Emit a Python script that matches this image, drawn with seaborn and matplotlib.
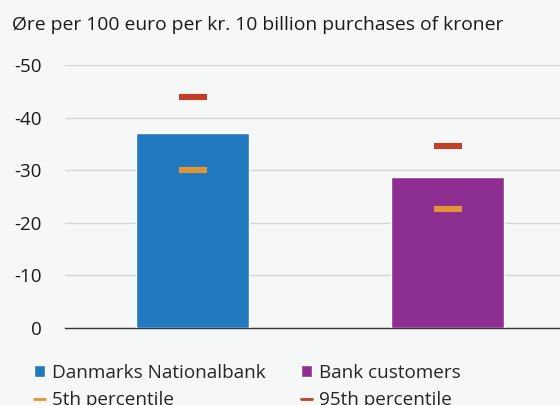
import matplotlib
matplotlib.use("Agg")
import matplotlib.pyplot as plt
import seaborn as sns
import pandas as pd
from matplotlib.patches import Patch
from matplotlib.lines import Line2D

# Data
categories = ["Danmarks Nationalbank", "Bank customers"]
values = [-37, -28.8]
p5 = [-30, -22.7]
p95 = [-44, -34.6]
yticks = [0, -10, -20, -30, -40, -50]

bar_colors = ["#2179c0", "#8c2f91"]
c5 = "#e29536"
c95 = "#c43e27"
bg = "#f6f7f7"

sns.set_style("white")
plt.rcParams["font.family"] = ["Open Sans", "DejaVu Sans"]

df = pd.DataFrame({"cat": categories, "val": values})

fig = plt.figure(figsize=(5.6, 4.05), dpi=100, facecolor=bg)
ax = fig.add_axes([65 / 560, 77 / 405, 510 / 560, 263 / 405])
ax.set_facecolor(bg)

sns.barplot(data=df, x="cat", y="val", hue="cat", palette=bar_colors,
            width=0.44, saturation=1, legend=False, ax=ax, zorder=3)

xs = list(range(len(categories)))
ax.plot(xs, p95, linestyle="none", marker="_", markersize=19.5,
        markeredgewidth=4.4, color=c95, zorder=4)
ax.plot(xs, p5, linestyle="none", marker="_", markersize=19.5,
        markeredgewidth=4.4, color=c5, zorder=4)

ax.set_ylim(0, -50)
ax.set_xlim(-0.5, 1.5)
ax.set_yticks(yticks)
ax.set_yticklabels([str(t) for t in yticks])
ax.yaxis.grid(True, color="#d4d4d4", linewidth=1)
ax.set_axisbelow(True)
ax.tick_params(axis="y", length=0, pad=17, labelsize=13.5, labelcolor="#1a1a1a")
ax.set_xticks([-0.5, 0.5, 1.5])
ax.set_xticklabels([])
ax.tick_params(axis="x", direction="in", length=5, color="#333333", width=1.2)
for s in ["top", "right", "left"]:
    ax.spines[s].set_visible(False)
ax.spines["bottom"].set_color("#333333")
ax.spines["bottom"].set_linewidth(1)
ax.set_xlabel("")
ax.set_ylabel("")

fig.text(12 / 560, 1 - 25 / 405, "Øre per 100 euro per kr. 10 billion purchases of kroner",
         fontsize=13.9, color="#1a1a1a", va="center", ha="left")

# column-major order so the rows read: bars, then percentiles
handles = [
    Patch(facecolor=bar_colors[0]),
    Line2D([0], [0], color=c5, linewidth=2),
    Patch(facecolor=bar_colors[1]),
    Line2D([0], [0], color=c95, linewidth=2),
]
labels = ["Danmarks Nationalbank", "5th percentile", "Bank customers", "95th percentile"]
fig.legend(handles, labels, ncol=2, loc="upper left", bbox_to_anchor=(34 / 560, 1 - 364 / 405),
           frameon=False, fontsize=13.6, handlelength=0.6, handleheight=0.6,
           handletextpad=0.35, columnspacing=1.85, labelspacing=0.5, borderaxespad=0,
           borderpad=0)

fig.savefig("out.png", dpi=100, facecolor=bg)
